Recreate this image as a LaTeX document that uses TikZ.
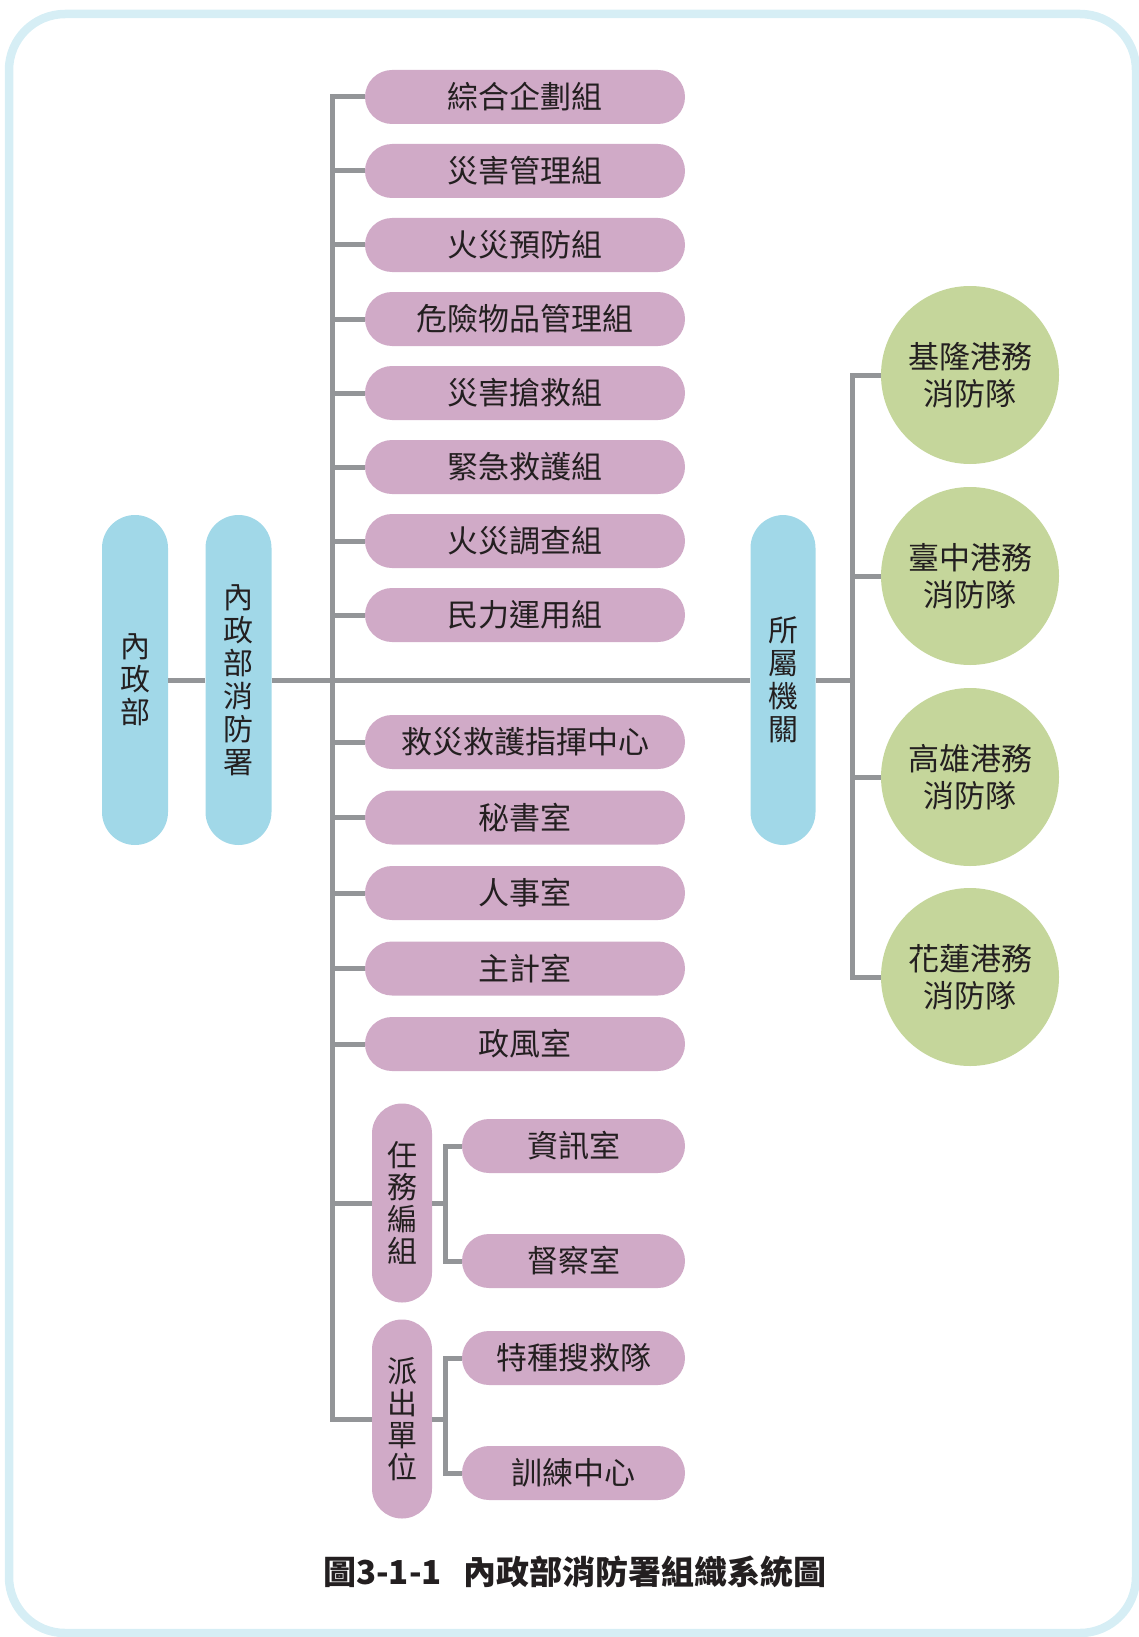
\documentclass[tikz,border=0pt]{standalone}
\usepackage{fontspec}
\newfontfamily\cjk{Noto Sans CJK TC}
\usetikzlibrary{calc}
\definecolor{pillc}{RGB}{208,170,199}
\definecolor{bluec}{RGB}{161,216,232}
\definecolor{greenc}{RGB}{197,214,155}
\definecolor{borderc}{RGB}{214,238,245}
\definecolor{linec}{RGB}{147,149,152}
\definecolor{txtc}{RGB}{35,31,32}
\begin{document}
\begin{tikzpicture}[x=1pt,y=-1pt,
 hpill/.style={fill=pillc, rounded corners=27pt, minimum width=320pt, minimum height=54pt, inner sep=0pt, text=txtc, font=\cjk\fontsize{31}{36}\selectfont},
 subpill/.style={hpill, minimum width=223pt},
 vpill/.style={fill=bluec, rounded corners=33pt, minimum width=66pt, minimum height=330pt, inner sep=0pt, text=txtc, align=center, font=\cjk\fontsize{30}{33}\selectfont},
 vgroup/.style={fill=pillc, rounded corners=30pt, minimum width=60pt, minimum height=199pt, inner sep=0pt, text=txtc, align=center, font=\cjk\fontsize{30}{32}\selectfont},
 port/.style={circle, fill=greenc, minimum size=178pt, inner sep=0pt, text=txtc, align=center, font=\cjk\fontsize{31}{37}\selectfont},
 conn/.style={draw=linec, line width=5pt},
]
\useasboundingbox (0,0) rectangle (1138,1637);
\draw[borderc, line width=8.5pt, rounded corners=56pt] (9,14) rectangle (1136,1633);

% left blue pills
\node[vpill] (nzb) at (135,680) {內\\政\\部};
\node[vpill] (xfs) at (238.5,680) {內\\政\\部\\消\\防\\署};
\node[vpill, minimum width=65pt] (ssj) at (783,680) {所\\屬\\機\\關};

% top groups
\node[hpill] (g1) at (525,97) {綜合企劃組};
\node[hpill] (g2) at (525,171) {災害管理組};
\node[hpill] (g3) at (525,245) {火災預防組};
\node[hpill] (g4) at (525,319) {危險物品管理組};
\node[hpill] (g5) at (525,393) {災害搶救組};
\node[hpill] (g6) at (525,467) {緊急救護組};
\node[hpill] (g7) at (525,541) {火災調查組};
\node[hpill] (g8) at (525,615) {民力運用組};

% lower units
\node[hpill] (h1) at (525,742) {救災救護指揮中心};
\node[hpill] (h2) at (525,817.5) {秘書室};
\node[hpill] (h3) at (525,893) {人事室};
\node[hpill] (h4) at (525,968.5) {主計室};
\node[hpill] (h5) at (525,1044) {政風室};

% task groups
\node[vgroup] (rw) at (402,1203) {任\\務\\編\\組};
\node[subpill] (zx) at (573.5,1146) {資訊室};
\node[subpill] (dc) at (573.5,1261) {督察室};
\node[vgroup] (pc) at (402,1419) {派\\出\\單\\位};
\node[subpill] (tz) at (573.5,1358) {特種搜救隊};
\node[subpill] (xl) at (573.5,1473) {訓練中心};

% harbour fire brigades
\node[port] (c1) at (970,375) {基隆港務\\消防隊};
\node[port] (c2) at (970,576) {臺中港務\\消防隊};
\node[port] (c3) at (970,777) {高雄港務\\消防隊};
\node[port] (c4) at (970,977) {花蓮港務\\消防隊};

% coordinates
\coordinate (spB) at (332,1419);
\coordinate (rsB) at (852,977);
\coordinate (s1) at (445,1261);
\coordinate (s2) at (445,1473);

% connectors
\draw[conn] (nzb.east) -- (xfs.west);
\draw[conn] (xfs.east) -- (ssj.west);
\draw[conn] (g1.west) -| (spB) -- (pc.west);
\foreach \n in {g2,g3,g4,g5,g6,g7,g8,h1,h2,h3,h4,h5,rw}
  \draw[conn] (\n.west) -- (\n.west -| spB);
\draw[conn] (ssj.east) -- (ssj.east -| rsB);
\draw[conn] (c1.west) -| (rsB) -- (c4.west);
\draw[conn] (c2.west) -- (c2.west -| rsB);
\draw[conn] (c3.west) -- (c3.west -| rsB);
\draw[conn] (zx.west) -| (s1) -- (dc.west);
\draw[conn] (rw.east) -- (rw.east -| s1);
\draw[conn] (tz.west) -| (s2) -- (xl.west);
\draw[conn] (pc.east) -- (pc.east -| s2);

% caption
\node[font=\cjk\bfseries\fontsize{33}{36}\selectfont, text=txtc] (cap) at (575,1572) {圖3-1-1\hspace{22pt}內政部消防署組織系統圖};
\end{tikzpicture}
\end{document}
